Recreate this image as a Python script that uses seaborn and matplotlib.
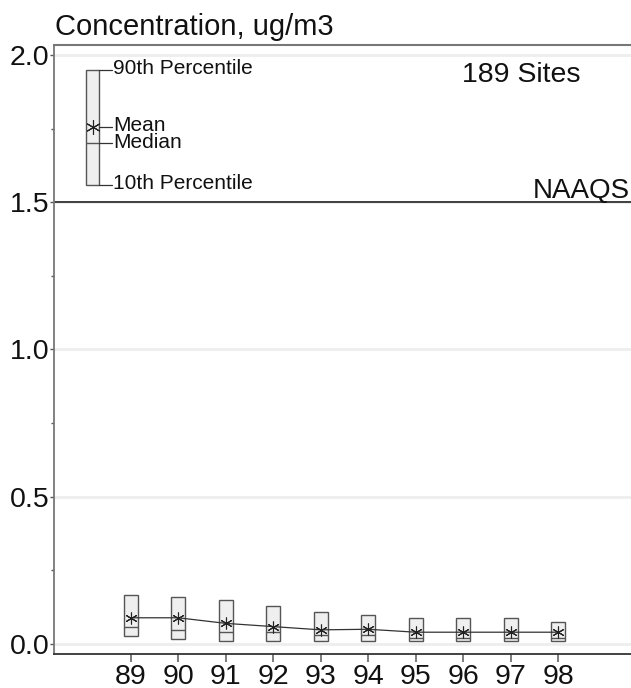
import matplotlib
matplotlib.use("Agg")
import matplotlib.pyplot as plt
import seaborn as sns
import pandas as pd
import numpy as np
from matplotlib.ticker import MultipleLocator

# Annual lead concentration statistics across monitoring sites
years = [89, 90, 91, 92, 93, 94, 95, 96, 97, 98]
p10 = [0.028, 0.018, 0.010, 0.010, 0.010, 0.010, 0.010, 0.010, 0.010, 0.010]
p90 = [0.168, 0.159, 0.148, 0.129, 0.108, 0.098, 0.087, 0.087, 0.087, 0.076]
median = [0.059, 0.049, 0.041, 0.041, 0.030, 0.030, 0.022, 0.019, 0.019, 0.019]
mean = [0.089, 0.089, 0.070, 0.059, 0.048, 0.050, 0.040, 0.040, 0.040, 0.040]

# Explanatory key box
key_p90, key_mean, key_median, key_p10 = 1.95, 1.755, 1.70, 1.56
key_labels = ["90th Percentile", "Mean", "Median", "10th Percentile"]

naaqs = 1.5
yticks = [0.0, 0.5, 1.0, 1.5, 2.0]
ytick_labels = ["0.0", "0.5", "1.0", "1.5", "2.0"]
title = "Concentration, ug/m3"
sites_label = "189 Sites"
naaqs_label = "NAAQS"

df = pd.DataFrame({"year": years, "p10": p10, "p90": p90,
                   "median": median, "mean": mean})

sns.set_style("white")
plt.rcParams["font.family"] = ["Liberation Sans", "DejaVu Sans"]

fig = plt.figure(figsize=(6.31, 6.88), dpi=100)
ax = fig.add_axes([54 / 631, 34 / 688, 577 / 631, 609 / 688])

box_w = 0.30
box_face = "#efefef"
box_edge = "#555555"
mark = (6, 2, 0)

# Percentile boxes
ax.bar(df["year"], df["p90"] - df["p10"], bottom=df["p10"], width=box_w,
       color=box_face, edgecolor=box_edge, linewidth=1.0, zorder=3)
ax.hlines(df["median"], df["year"] - box_w / 2, df["year"] + box_w / 2,
          color=box_edge, linewidth=1.0, zorder=4)

# Mean trend line with asterisk markers
sns.lineplot(data=df, x="year", y="mean", ax=ax, color="#333333",
             linewidth=0.9, marker=mark, markersize=8.5,
             markeredgecolor="#222222", markeredgewidth=0.8, zorder=5)

# Key box
key_x = 88.2
key_w = 0.28
ax.bar([key_x], [key_p90 - key_p10], bottom=[key_p10], width=key_w,
       color=box_face, edgecolor=box_edge, linewidth=1.0, zorder=3)
ax.hlines([key_median], key_x - key_w / 2, key_x + key_w / 2,
          color=box_edge, linewidth=1.0, zorder=4)
ax.plot([key_x], [key_mean], marker=mark, markersize=10.5,
        markeredgecolor="#222222", markeredgewidth=0.8, linestyle="none",
        zorder=5)
lead_x0 = key_x + key_w / 2
lead_x1 = lead_x0 + 0.27
for lvl, lab in zip([key_p90, key_mean, key_median, key_p10], key_labels):
    ax.plot([lead_x0, lead_x1], [lvl, lvl], color="#333333", linewidth=0.9,
            zorder=4)
    ax.text(lead_x1 + 0.02, lvl + 0.004, lab, fontsize=15, va="center",
            ha="left", color="#111111")

# Standard line
ax.axhline(naaqs, color="#222222", linewidth=1.2, zorder=2)
ax.text(99.5, naaqs + 0.015, naaqs_label, fontsize=20, ha="right",
        va="baseline", color="#111111")

ax.text(0.7066, 0.951, sites_label, transform=ax.transAxes, fontsize=20.5,
        ha="left", va="center", color="#111111")

fig.text(55 / 631, (688 - 35) / 688, title, fontsize=21, ha="left",
         va="baseline", color="#111111")

# Axes styling
ax.set_xlim(87.385, 99.53)
ax.set_ylim(-0.034, 2.034)
ax.set_yticks(yticks)
ax.set_yticklabels(ytick_labels)
ax.yaxis.set_minor_locator(MultipleLocator(0.25))
ax.set_xticks(years)
ax.set_xticklabels([str(y) for y in years])
ax.set_xlabel("")
ax.set_ylabel("")

ax.yaxis.grid(True, color="#eeeeee", linewidth=2)
ax.set_axisbelow(True)

ax.tick_params(axis="y", which="major", left=True, length=3, width=1.0,
               color="#555555", pad=0.5, labelsize=20.5, labelcolor="#111111")
ax.tick_params(axis="y", which="minor", left=True, length=2, width=1.0,
               color="#555555")
ax.tick_params(axis="x", which="major", bottom=True, length=6, width=1.2,
               color="#666666", pad=1.5, labelsize=20.5, labelcolor="#111111")

ax.spines["right"].set_visible(False)
ax.spines["top"].set_color("#777777")
ax.spines["top"].set_linewidth(1.5)
ax.spines["left"].set_color("#777777")
ax.spines["left"].set_linewidth(1.3)
ax.spines["bottom"].set_color("#333333")
ax.spines["bottom"].set_linewidth(1.3)

fig.savefig("out.png", dpi=100, facecolor="white")
